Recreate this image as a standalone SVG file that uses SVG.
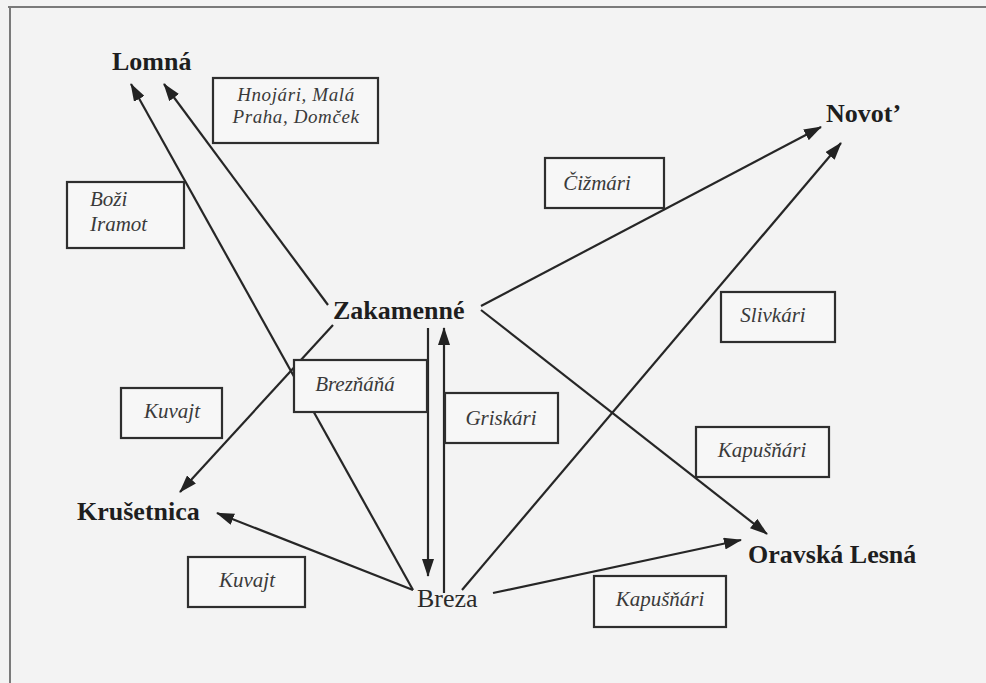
<svg xmlns="http://www.w3.org/2000/svg" width="986" height="683" viewBox="0 0 986 683">
<defs>
<style>
.place{font-family:"Liberation Serif","Times New Roman",serif;font-weight:bold;font-size:26px;fill:#1e1e1e}
.placer{font-family:"Liberation Serif","Times New Roman",serif;font-size:26px;fill:#2a2a2a}
.lab{font-family:"Liberation Serif","Times New Roman",serif;font-style:italic;font-size:21px;fill:#3a3a3a}
.lab2{font-family:"Liberation Serif","Times New Roman",serif;font-style:italic;font-size:19px;letter-spacing:0.6px;fill:#3a3a3a}
.box{fill:#f7f7f7;stroke:#2e2e2e;stroke-width:2.2}
.con{stroke:#262626;stroke-width:2.2;fill:none;marker-end:url(#ah)}
</style>
<marker id="ah" viewBox="0 0 18 12" refX="17" refY="6" markerWidth="18" markerHeight="12" markerUnits="userSpaceOnUse" orient="auto">
<path d="M0,0 L18,6 L0,12 z" fill="#222"/>
</marker>
</defs>
<rect x="0" y="0" width="986" height="683" fill="#f3f3f3"/>
<path d="M8,7 H986 M10,7 V683" stroke="#7a7a7a" stroke-width="2" fill="none"/>

<g id="connectors">
<line class="con" x1="413" y1="590" x2="131" y2="84"/>
<line class="con" x1="328" y1="305" x2="164" y2="84"/>
<line class="con" x1="481" y1="306" x2="821" y2="127"/>
<line class="con" x1="462" y1="590" x2="841" y2="143"/>
<line class="con" x1="481" y1="310" x2="767" y2="534"/>
<line class="con" x1="493" y1="593" x2="741" y2="540"/>
<line class="con" x1="333" y1="325" x2="180" y2="492"/>
<line class="con" x1="413" y1="590" x2="217" y2="513"/>
<line class="con" x1="428" y1="328" x2="428" y2="576"/>
<line class="con" x1="444" y1="593" x2="444" y2="328"/>
</g>

<g id="node-lomna"><text class="place" x="112" y="70">Lomná</text></g>
<g id="node-zakamenne"><text class="place" x="333" y="319">Zakamenné</text></g>
<g id="node-novot"><text class="place" x="826" y="122">Novot’</text></g>
<g id="node-krusetnica"><text class="place" x="77" y="520">Krušetnica</text></g>
<g id="node-oravska-lesna"><text class="place" x="748" y="563">Oravská Lesná</text></g>
<g id="node-breza"><text class="placer" x="417" y="607">Breza</text></g>

<g id="label-hnojari">
<rect class="box" x="213" y="78" width="165" height="65"/>
<text class="lab2" x="296" y="101" text-anchor="middle">Hnojári, Malá</text>
<text class="lab2" x="296" y="123" text-anchor="middle">Praha, Domček</text>
</g>
<g id="label-bozi-iramot">
<rect class="box" x="67" y="182" width="117" height="66"/>
<text class="lab" x="90" y="206">Boži</text>
<text class="lab" x="90" y="231">Iramot</text>
</g>
<g id="label-cizmari">
<rect class="box" x="545" y="158" width="119" height="50"/>
<text class="lab" x="597" y="190" text-anchor="middle">Čižmári</text>
</g>
<g id="label-slivkari">
<rect class="box" x="721" y="292" width="114" height="50"/>
<text class="lab" x="773" y="322" text-anchor="middle">Slivkári</text>
</g>
<g id="label-breznana">
<rect class="box" x="294" y="360" width="133" height="52"/>
<text class="lab" x="355" y="391" text-anchor="middle">Brezňáňá</text>
</g>
<g id="label-griskari">
<rect class="box" x="445" y="393" width="113" height="50"/>
<text class="lab" x="501" y="425" text-anchor="middle">Griskári</text>
</g>
<g id="label-kuvajt-1">
<rect class="box" x="121" y="388" width="101" height="50"/>
<text class="lab" x="172" y="418" text-anchor="middle">Kuvajt</text>
</g>
<g id="label-kapusnari-1">
<rect class="box" x="696" y="427" width="133" height="50"/>
<text class="lab" x="762" y="457" text-anchor="middle">Kapušňári</text>
</g>
<g id="label-kuvajt-2">
<rect class="box" x="188" y="557" width="117" height="50"/>
<text class="lab" x="247" y="587" text-anchor="middle">Kuvajt</text>
</g>
<g id="label-kapusnari-2">
<rect class="box" x="594" y="576" width="132" height="51"/>
<text class="lab" x="660" y="606" text-anchor="middle">Kapušňári</text>
</g>
</svg>
